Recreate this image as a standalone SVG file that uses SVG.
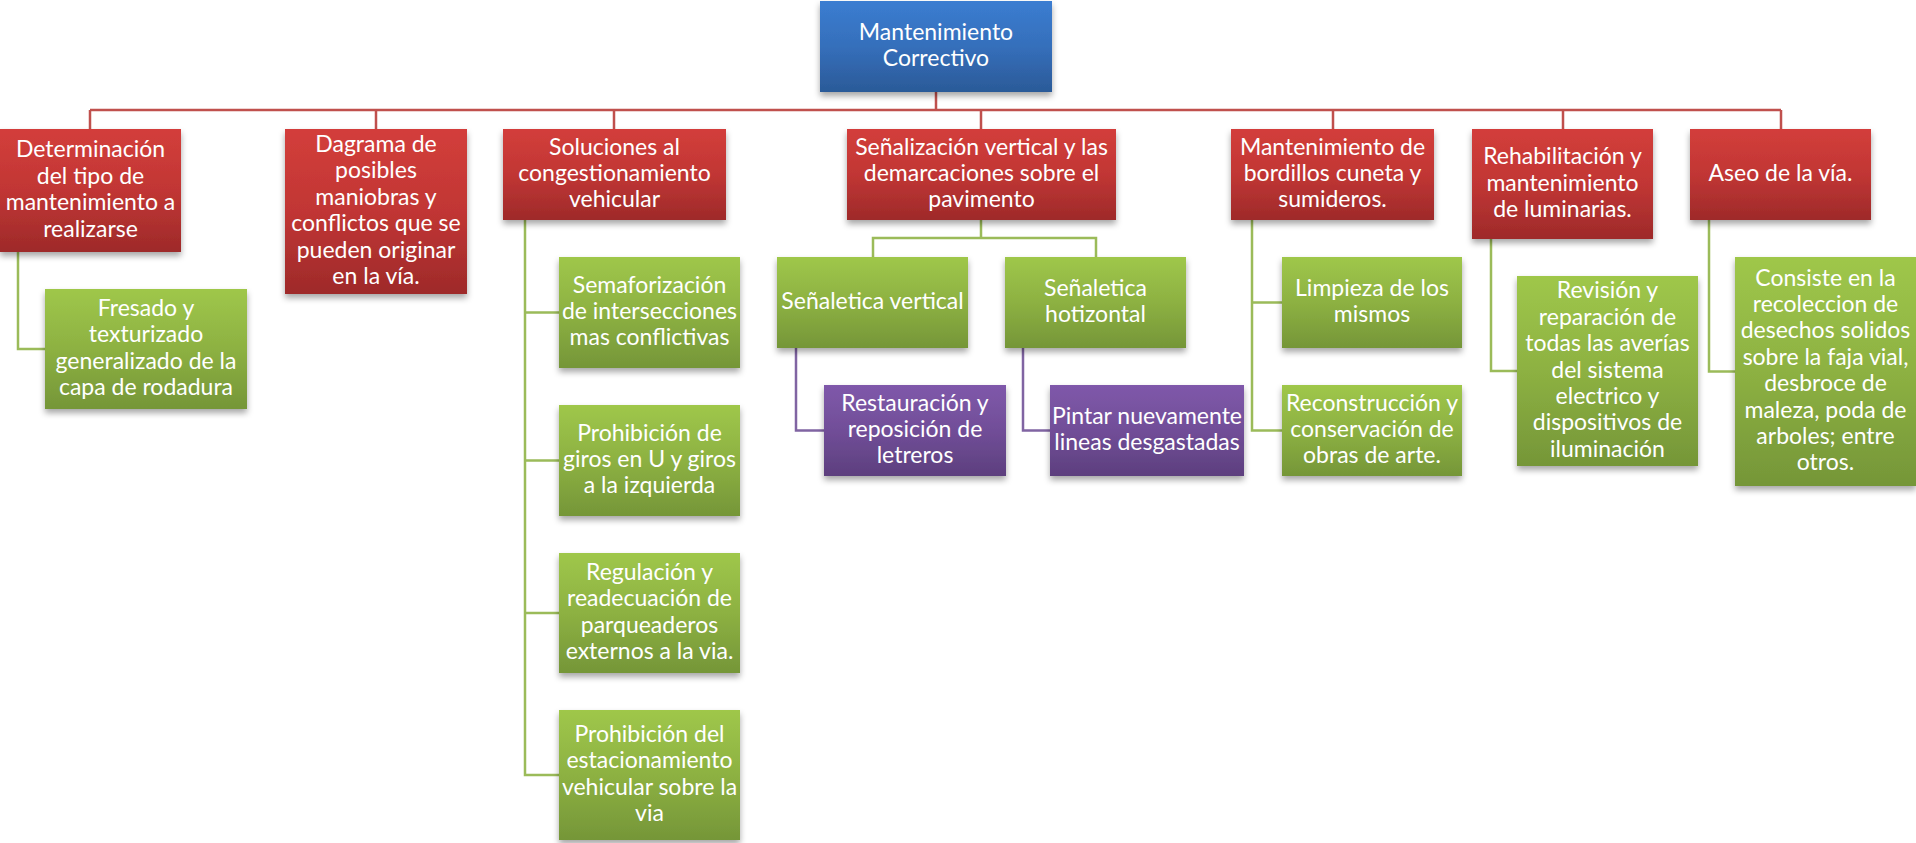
<svg xmlns="http://www.w3.org/2000/svg" width="1916" height="843" viewBox="0 0 1916 843">
<style>
text{font-family:Lato,"Liberation Sans",sans-serif;font-size:23px;fill:#fff;text-anchor:middle}
.red{fill:url(#gRed);filter:url(#sh)}
.grn{fill:url(#gGrn);filter:url(#sh)}
.blu{fill:url(#gBlu);filter:url(#sh)}
.pur{fill:url(#gPur);filter:url(#sh)}
.cr{stroke:#c0504d;stroke-width:2.5;fill:none}
.cg{stroke:#9bbb59;stroke-width:2.5;fill:none}
.cp{stroke:#8064a2;stroke-width:2.5;fill:none}
</style>
<defs>
<linearGradient id="gRed" x1="0" y1="0" x2="0" y2="1"><stop offset="0" stop-color="#d33e3b"/><stop offset="0.5" stop-color="#c13634"/><stop offset="1" stop-color="#9e2a2a"/></linearGradient>
<linearGradient id="gGrn" x1="0" y1="0" x2="0" y2="1"><stop offset="0" stop-color="#9fc74a"/><stop offset="0.5" stop-color="#8db142"/><stop offset="1" stop-color="#759638"/></linearGradient>
<linearGradient id="gBlu" x1="0" y1="0" x2="0" y2="1"><stop offset="0" stop-color="#3b7dd1"/><stop offset="0.5" stop-color="#356fbb"/><stop offset="1" stop-color="#2b5a98"/></linearGradient>
<linearGradient id="gPur" x1="0" y1="0" x2="0" y2="1"><stop offset="0" stop-color="#7f58aa"/><stop offset="0.5" stop-color="#714e98"/><stop offset="1" stop-color="#5d3f7e"/></linearGradient>
<filter id="sh" x="-10%" y="-10%" width="120%" height="130%"><feDropShadow dx="0" dy="4" stdDeviation="3" flood-color="#000" flood-opacity="0.35"/></filter>
</defs>
<g id="connectors">
<path class="cr" d="M936 92V110M90 110H1781M90 110V129M376 110V129M614 110V129M981 110V129M1333 110V129M1563 110V129M1781 110V129"/>
<path class="cg" d="M18 252V349H45"/>
<path class="cg" d="M525 220V775H559M525 312.5H559M525 460.5H559M525 613H559"/>
<path class="cg" d="M981 220V238M873 257V238H1096V257"/>
<path class="cp" d="M796 348V430.5H824M1023 348V430.5H1050"/>
<path class="cg" d="M1252 220V430.5H1282M1252 302.5H1282"/>
<path class="cg" d="M1491 239V371H1517"/>
<path class="cg" d="M1709 220V371.5H1735"/>
</g>
<g transform="translate(0,0.6)">
<g id="root"><rect class="blu" x="820" y="0.4" width="232" height="91"/><text x="936" y="39.3">Mantenimiento</text><text x="936" y="65.7">Correctivo</text></g>
<g id="n1"><rect class="red" x="0" y="128.4" width="181" height="123"/><text x="90.5" y="156.9">Determinación</text><text x="90.5" y="183.3">del tipo de</text><text x="90.5" y="209.7">mantenimiento a</text><text x="90.5" y="236.1">realizarse</text></g>
<g id="n2"><rect class="red" x="285" y="128.4" width="182" height="165"/><text x="376" y="151.5">Dagrama de</text><text x="376" y="177.9">posibles</text><text x="376" y="204.3">maniobras y</text><text x="376" y="230.7">conflictos que se</text><text x="376" y="257.1">pueden originar</text><text x="376" y="283.5">en la vía.</text></g>
<g id="n3"><rect class="red" x="503" y="128.4" width="223" height="91"/><text x="614.5" y="154.1">Soluciones al</text><text x="614.5" y="180.5">congestionamiento</text><text x="614.5" y="206.9">vehicular</text></g>
<g id="n4"><rect class="red" x="847" y="128.4" width="269" height="91"/><text x="981.5" y="154.1">Señalización vertical y las</text><text x="981.5" y="180.5">demarcaciones sobre el</text><text x="981.5" y="206.9">pavimento</text></g>
<g id="n5"><rect class="red" x="1231" y="128.4" width="203" height="91"/><text x="1332.5" y="154.1">Mantenimiento de</text><text x="1332.5" y="180.5">bordillos cuneta y</text><text x="1332.5" y="206.9">sumideros.</text></g>
<g id="n6"><rect class="red" x="1472" y="128.4" width="181" height="110"/><text x="1562.5" y="163.6">Rehabilitación y</text><text x="1562.5" y="190">mantenimiento</text><text x="1562.5" y="216.4">de luminarias.</text></g>
<g id="n7"><rect class="red" x="1690" y="128.4" width="181" height="91"/><text x="1780.5" y="180.5">Aseo de la vía.</text></g>
<g id="c1"><rect class="grn" x="45" y="288.4" width="202" height="120"/><text x="146" y="315.4">Fresado y</text><text x="146" y="341.8">texturizado</text><text x="146" y="368.2">generalizado de la</text><text x="146" y="394.6">capa de rodadura</text></g>
<g id="c3a"><rect class="grn" x="559" y="256.4" width="181" height="111"/><text x="649.5" y="292.1">Semaforización</text><text x="649.5" y="318.5">de intersecciones</text><text x="649.5" y="344.9">mas conflictivas</text></g>
<g id="c3b"><rect class="grn" x="559" y="404.4" width="181" height="111"/><text x="649.5" y="440.1">Prohibición de</text><text x="649.5" y="466.5">giros en U y giros</text><text x="649.5" y="492.9">a la izquierda</text></g>
<g id="c3c"><rect class="grn" x="559" y="552.4" width="181" height="120"/><text x="649.5" y="579.4">Regulación y</text><text x="649.5" y="605.8">readecuación de</text><text x="649.5" y="632.2">parqueaderos</text><text x="649.5" y="658.6">externos a la via.</text></g>
<g id="c3d"><rect class="grn" x="559" y="709.4" width="181" height="130"/><text x="649.5" y="741.4">Prohibición del</text><text x="649.5" y="767.8">estacionamiento</text><text x="649.5" y="794.2">vehicular sobre la</text><text x="649.5" y="820.6">via</text></g>
<g id="c4a"><rect class="grn" x="777" y="256.4" width="191" height="91"/><text x="872.5" y="308.5">Señaletica vertical</text></g>
<g id="c4b"><rect class="grn" x="1005" y="256.4" width="181" height="91"/><text x="1095.5" y="295.3">Señaletica</text><text x="1095.5" y="321.7">hotizontal</text></g>
<g id="p1"><rect class="pur" x="824" y="384.4" width="182" height="91"/><text x="915" y="410.1">Restauración y</text><text x="915" y="436.5">reposición de</text><text x="915" y="462.9">letreros</text></g>
<g id="p2"><rect class="pur" x="1050" y="384.4" width="194" height="91"/><text x="1147" y="423.3">Pintar nuevamente</text><text x="1147" y="449.7">lineas desgastadas</text></g>
<g id="c5a"><rect class="grn" x="1282" y="256.4" width="180" height="91"/><text x="1372" y="295.3">Limpieza de los</text><text x="1372" y="321.7">mismos</text></g>
<g id="c5b"><rect class="grn" x="1282" y="384.4" width="180" height="91"/><text x="1372" y="410.1">Reconstrucción y</text><text x="1372" y="436.5">conservación de</text><text x="1372" y="462.9">obras de arte.</text></g>
<g id="c6"><rect class="grn" x="1517" y="275.4" width="181" height="190"/><text x="1607.5" y="297.8">Revisión y</text><text x="1607.5" y="324.2">reparación de</text><text x="1607.5" y="350.6">todas las averías</text><text x="1607.5" y="377">del sistema</text><text x="1607.5" y="403.4">electrico y</text><text x="1607.5" y="429.8">dispositivos de</text><text x="1607.5" y="456.2">iluminación</text></g>
<g id="c7"><rect class="grn" x="1735" y="256.4" width="181" height="229"/><text x="1825.5" y="285.1">Consiste en la</text><text x="1825.5" y="311.5">recoleccion de</text><text x="1825.5" y="337.9">desechos solidos</text><text x="1825.5" y="364.3">sobre la faja vial,</text><text x="1825.5" y="390.7">desbroce de</text><text x="1825.5" y="417.1">maleza, poda de</text><text x="1825.5" y="443.5">arboles; entre</text><text x="1825.5" y="469.9">otros.</text></g>
</g>
</svg>
